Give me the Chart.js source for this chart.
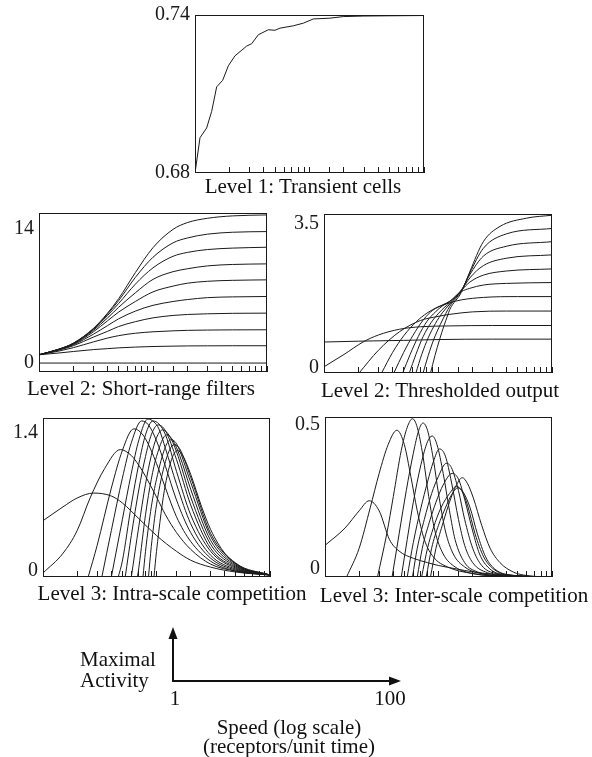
<!DOCTYPE html>
<html>
<head>
<meta charset="utf-8">
<script src="https://cdn.jsdelivr.net/npm/chart.js@4.4.0/dist/chart.umd.min.js"></script>
<style>
  body { margin: 0; background: #fff; width: 592px; height: 757px; position: relative; overflow: hidden;
         font-family: "Liberation Serif", "DejaVu Serif", serif; color: #111; }
  canvas { position: absolute; }
  .cap { position: absolute; transform: translate(-50%, -50%); white-space: nowrap; font-size: 21px; }
</style>
</head>
<body>
<canvas id="p1" width="300" height="190" style="left:140px;top:0px"></canvas>
<canvas id="p2" width="285" height="195" style="left:0px;top:195px"></canvas>
<canvas id="p3" width="290" height="195" style="left:280px;top:195px"></canvas>
<canvas id="p4" width="290" height="195" style="left:0px;top:400px"></canvas>
<canvas id="p5" width="290" height="195" style="left:280px;top:400px"></canvas>

<div class="cap" style="left:303px;top:186px">Level 1: Transient cells</div>
<div class="cap" style="left:141px;top:388px">Level 2: Short-range filters</div>
<div class="cap" style="left:440px;top:390px">Level 2: Thresholded output</div>
<div class="cap" style="left:172px;top:593px">Level 3: Intra-scale competition</div>
<div class="cap" style="left:454px;top:595px">Level 3: Inter-scale competition</div>

<svg width="592" height="757" style="position:absolute;left:0;top:0" font-family="Liberation Serif, serif" font-size="21" fill="#111">
  <line x1="173" y1="682" x2="173" y2="636" stroke="#111" stroke-width="2"/>
  <polygon points="173,627 168.5,639 177.5,639"/>
  <line x1="172" y1="681" x2="391" y2="681" stroke="#111" stroke-width="2"/>
  <polygon points="401,681 389,676.5 389,685.5"/>
  <text x="80" y="666">Maximal</text>
  <text x="80" y="687">Activity</text>
  <text x="175" y="705" text-anchor="middle">1</text>
  <text x="390" y="705" text-anchor="middle">100</text>
  <text x="289" y="734" text-anchor="middle">Speed (log scale)</text>
  <text x="289" y="753" text-anchor="middle">(receptors/unit time)</text>
</svg>

<script>
// Level 1: transient cells (one curve)
const transSpeed = [1, 1.106, 1.264, 1.398, 1.546, 1.745, 1.955, 2.235, 2.827, 3.126, 3.573, 4.37, 4.996, 5.525, 7.225, 8.834, 10.8, 15.1, 19.7, 29.5, 50, 100];
const transValue = [0.68, 0.6934, 0.6971, 0.7034, 0.7127, 0.7152, 0.7207, 0.7245, 0.7282, 0.7291, 0.7325, 0.7344, 0.7342, 0.735, 0.7359, 0.7369, 0.7385, 0.7388, 0.7394, 0.7396, 0.7397, 0.7398];

// Level 2: short-range filters, all on one speed grid
const shortSpeed = [1, 1.5, 2, 3, 4, 5, 7, 10, 15, 20, 30, 50, 100];
const shortCurves = [
  [0, 0, 0, 0, 0, 0, 0, 0, 0, 0, 0, 0, 0],
  [0.86, 1.05, 1.2, 1.4, 1.5, 1.58, 1.66, 1.72, 1.76, 1.78, 1.79, 1.8, 1.8],
  [0.86, 1.25, 1.6, 2.2, 2.6, 2.85, 3.1, 3.25, 3.35, 3.4, 3.43, 3.45, 3.46],
  [0.86, 1.35, 1.8, 2.7, 3.3, 3.8, 4.3, 4.7, 4.95, 5.05, 5.12, 5.17, 5.19],
  [0.86, 1.4, 1.9, 3.0, 3.9, 4.6, 5.4, 6.0, 6.4, 6.6, 6.8, 6.88, 6.92],
  [0.86, 1.42, 1.95, 3.25, 4.4, 5.3, 6.4, 7.4, 8.0, 8.3, 8.5, 8.6, 8.65],
  [0.86, 1.43, 2.0, 3.4, 4.7, 5.8, 7.3, 8.7, 9.5, 9.8, 10.1, 10.25, 10.31],
  [0.86, 1.44, 2.03, 3.5, 4.95, 6.2, 8.2, 9.9, 11.1, 11.5, 11.8, 11.95, 12.04],
  [0.86, 1.45, 2.05, 3.55, 5.1, 6.5, 8.9, 11.0, 12.5, 13.0, 13.4, 13.6, 13.67],
  [0.86, 1.45, 2.07, 3.6, 5.2, 6.7, 9.4, 12.0, 13.9, 14.6, 15.05, 15.3, 15.4]
];

// Level 2: thresholded output, [speed, value] pairs per curve
const threshCurves = [
  [[1, .75], [2, .77], [5, .79], [10, .81], [30, .82], [100, .82]],
  [[1, .15], [1.5, .45], [2.2, .75], [3, .92], [4.6, 1.06], [7, 1.12], [12.7, 1.14], [30, 1.15], [100, 1.15]],
  [[2.03, 0], [3, .55], [4.6, 1.0], [7, 1.27], [10, 1.37], [12.7, 1.42], [20, 1.48], [40, 1.5], [100, 1.5]],
  [[3.2, 0], [4, .5], [5, .9], [6.5, 1.25], [8, 1.45], [10, 1.6], [12.7, 1.7], [16, 1.77], [25, 1.83], [50, 1.85], [100, 1.85]],
  [[4.1, 0], [5, .5], [6, .9], [7.5, 1.3], [9, 1.52], [11, 1.65], [12.7, 1.74], [16, 1.97], [19, 2.05], [25, 2.13], [40, 2.17], [100, 2.19]],
  [[4.9, 0], [5.7, .45], [6.7, .88], [8, 1.25], [9.5, 1.48], [11, 1.63], [12.7, 1.73], [16, 2.0], [19, 2.2], [25, 2.37], [40, 2.47], [100, 2.52]],
  [[5.6, 0], [6.4, .45], [7.4, .88], [8.7, 1.22], [10, 1.43], [11.5, 1.6], [12.7, 1.7], [16, 2.0], [19, 2.3], [25, 2.6], [40, 2.78], [100, 2.86]],
  [[6.4, 0], [7.2, .45], [8.2, .85], [9.5, 1.2], [11, 1.47], [12.7, 1.67], [16, 2.0], [19, 2.38], [25, 2.83], [40, 3.07], [100, 3.18]],
  [[7.4, 0], [8.2, .42], [9.2, .82], [10.5, 1.18], [11.7, 1.44], [12.7, 1.62], [16, 1.98], [19, 2.42], [25, 3.02], [40, 3.37], [100, 3.5]],
  [[8.6, 0], [9.4, .42], [10.3, .8], [11.3, 1.15], [12.1, 1.38], [12.7, 1.54], [16, 1.95], [19, 2.45], [25, 3.18], [35, 3.55], [60, 3.75], [100, 3.82]]
];

// Level 3: intra-scale competition
const intraCurves = [
  [[1, .57], [1.5, .71], [2, .8], [2.8, .85], [4, .82], [5, .75], [7, .59], [10, .42], [15, .26], [20, .17], [30, .1], [50, .05], [100, .02]],
  [[1, .04], [1.5, .24], [2, .47], [2.6, .8], [3.5, 1.1], [4.8, 1.29], [6, 1.23], [7, 1.13], [8, 1.02], [10, .81], [12, .63], [15, .45], [20, .28], [30, .13], [50, .06], [100, .02]],
  [[2.5, 0], [3, .32], [4, .9], [5, 1.28], [6.3, 1.5], [7, 1.48], [8, 1.4], [10, 1.15], [12, .9], [15, .61], [20, .36], [30, .16], [50, .06], [100, .02]],
  [[3.3, 0], [4, .47], [5, 1.0], [6, 1.36], [7.4, 1.58], [8.5, 1.54], [10, 1.38], [12, 1.12], [15, .78], [20, .45], [30, .19], [50, .07], [100, .02]],
  [[4, 0], [5, .58], [6, 1.05], [7, 1.39], [8.4, 1.6], [9.5, 1.57], [10.5, 1.5], [12, 1.3], [15, .94], [20, .54], [30, .22], [50, .08], [100, .02]],
  [[4.6, 0], [5, .16], [6, .73], [7, 1.15], [8, 1.44], [9.3, 1.58], [10.5, 1.55], [12, 1.44], [15, 1.07], [20, .63], [30, .26], [50, .09], [100, .02]],
  [[5.3, 0], [6, .42], [7, .89], [8, 1.22], [9, 1.44], [10.3, 1.54], [12, 1.48], [15, 1.19], [20, .73], [30, .29], [50, .1], [100, .02]],
  [[6, 0], [7, .52], [8, .94], [9, 1.23], [10, 1.41], [11.3, 1.49], [13, 1.43], [15, 1.27], [20, .81], [30, .33], [50, .11], [100, .02]],
  [[6.8, 0], [7, .1], [8, .63], [9, .99], [10, 1.22], [12.3, 1.44], [14, 1.38], [16, 1.23], [20, .89], [30, .37], [50, .12], [100, .02]],
  [[7.6, 0], [8, .26], [9, .71], [10, .99], [12, 1.32], [13.3, 1.39], [15, 1.35], [20, .96], [30, .41], [50, .13], [100, .02]],
  [[8.5, 0], [9, .31], [10, .73], [12, 1.17], [14.3, 1.34], [16, 1.3], [20, 1.01], [30, .44], [50, .14], [100, .02]],
  [[9.5, 0], [10, .26], [12, .94], [15.3, 1.28], [17, 1.23], [20, 1.04], [25, .71], [30, .48], [40, .24], [60, .08], [100, .02]]
];

// Level 3: inter-scale competition
const interCurves = [
  [[1, .11], [1.5, .17], [2, .23], [2.45, .265], [3, .23], [3.7, .13], [4.5, .09], [6, .065], [8, .05], [10, .04], [14.4, .028], [20, .018], [30, .01], [50, .004], [100, 0]],
  [[1.55, 0], [2, .1], [2.5, .24], [3, .36], [3.6, .46], [4.3, .51], [5, .46], [5.7, .35], [6.5, .23], [7.5, .13], [9, .07], [12, .035], [20, .012], [40, .003], [100, 0]],
  [[2.9, 0], [3.5, .15], [4, .28], [4.7, .44], [5.3, .52], [5.9, .55], [6.5, .52], [7.3, .42], [8.2, .28], [9.3, .16], [11, .08], [14, .035], [20, .012], [40, .002], [100, 0]],
  [[3.9, 0], [4.5, .15], [5.2, .3], [6, .43], [6.7, .51], [7.3, .535], [8, .51], [9, .41], [10, .29], [11.5, .16], [13.5, .08], [17, .035], [25, .01], [50, .002], [100, 0]],
  [[4.7, 0], [5.3, .13], [6, .26], [7, .39], [8, .47], [8.8, .49], [9.7, .46], [11, .36], [12.5, .23], [14, .13], [17, .05], [22, .018], [35, .004], [100, 0]],
  [[5.3, 0], [6, .12], [7, .24], [8, .33], [9, .4], [10.2, .445], [11.5, .42], [13, .33], [15, .2], [17, .11], [20, .05], [27, .015], [45, .003], [100, 0]],
  [[5.9, 0], [6.5, .1], [7.5, .2], [8.7, .29], [10, .35], [11.7, .395], [13, .38], [15, .3], [17, .2], [20, .1], [24, .04], [32, .012], [60, .002], [100, 0]],
  [[6.5, 0], [7.2, .1], [8.3, .19], [9.5, .26], [11, .32], [13.2, .36], [15, .34], [17, .27], [20, .16], [23, .08], [28, .03], [38, .008], [100, 0]],
  [[7.1, 0], [8, .1], [9, .17], [10.5, .24], [12.5, .29], [14.4, .315], [16, .3], [18, .25], [21, .15], [25, .07], [30, .03], [40, .008], [100, 0]],
  [[7.8, 0], [8.7, .1], [10, .18], [11.5, .24], [13, .285], [14.8, .31], [16.5, .295], [19, .24], [22, .15], [26, .07], [32, .025], [45, .006], [100, 0]],
  [[8.5, 0], [9.5, .1], [11, .19], [12.5, .26], [14, .31], [16.2, .345], [18, .325], [20.3, .274], [24, .18], [28.5, .1], [34.8, .05], [45.7, .017], [60, .005], [100, 0]]
];

const ink = '#1a1a1a';

// frame round the plot area
const frame = {
  id: 'frame',
  afterDraw(chart) {
    const a = chart.chartArea, ctx = chart.ctx;
    ctx.save();
    ctx.strokeStyle = ink;
    ctx.lineWidth = 1;
    ctx.strokeRect(Math.round(a.left) + 0.5, Math.round(a.top) + 0.5,
                   Math.round(a.right - a.left) - 1, Math.round(a.bottom - a.top) - 1);
    ctx.restore();
  }
};

function drawPanel(id, lay, curves, yMin, yMax, yTicks, yLabels, smooth, shift) {
  new Chart(document.getElementById(id), {
    type: 'line',
    data: {
      datasets: curves.map(pts => ({
        data: pts.map(p => ({ x: p[0], y: p[1] })),
        borderColor: ink,
        borderWidth: 1,
        pointRadius: 0,
        tension: 0,
        cubicInterpolationMode: smooth ? 'monotone' : 'default'
      }))
    },
    options: {
      responsive: false,
      animation: false,
      events: [],
      layout: { padding: lay.pad },
      plugins: { legend: { display: false }, tooltip: { enabled: false } },
      scales: {
        x: {
          type: 'logarithmic', min: 1, max: 100,
          afterFit: s => { s.height = 0; },
          ticks: { display: false },
          border: { display: false },
          grid: { drawOnChartArea: false, drawTicks: true, tickLength: -6, color: ink, lineWidth: 1 }
        },
        y: {
          min: yMin, max: yMax,
          afterFit: s => { s.width = lay.yw; },
          afterBuildTicks: s => { s.ticks = yTicks.map(v => ({ value: v })); },
          ticks: {
            callback: (v, i) => yLabels[i],
            padding: 5, color: ink, labelOffset: shift,
            font: { family: 'Liberation Serif', size: 20, lineHeight: 1 }
          },
          grid: { display: false, drawTicks: false },
          border: { display: false }
        }
      }
    },
    plugins: [frame]
  });
}

drawPanel('p1', { yw: 55, pad: { left: 0, top: 12, right: 16, bottom: 17 } },
  [transSpeed.map((s, i) => [s, transValue[i]])], 0.68, 0.74, [0.68, 0.74], ['0.68', '0.74'], false, 0);

drawPanel('p2', { yw: 39, pad: { left: 0, top: 18, right: 18, bottom: 18 } },
  shortCurves.map(vals => vals.map((v, i) => [shortSpeed[i], v])), -0.93, 15.6, [0, 14], ['0', '14'], true, 0);

drawPanel('p3', { yw: 44, pad: { left: 0, top: 19, right: 18, bottom: 17 } },
  threshCurves, 0, 3.85, [0, 3.5], ['0', '3.5'], true, -5);

drawPanel('p4', { yw: 43, pad: { left: 0, top: 18, right: 20, bottom: 18 } },
  intraCurves, 0, 1.61, [0, 1.4], ['0', '1.4'], true, -6);

drawPanel('p5', { yw: 45, pad: { left: 0, top: 17, right: 18, bottom: 18 } },
  interCurves, 0, 0.556, [0, 0.5], ['0', '0.5'], true, -8);
</script>
</body>
</html>
